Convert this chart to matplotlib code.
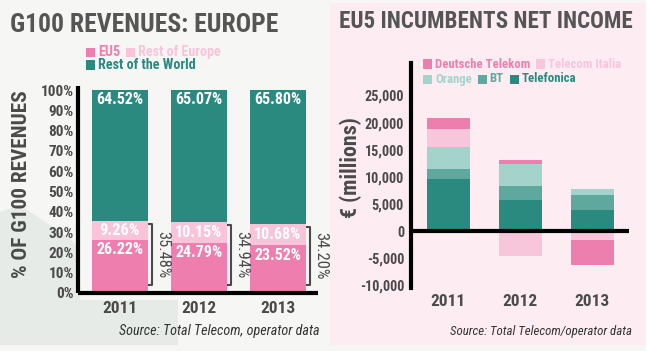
import matplotlib
matplotlib.use("Agg")
import matplotlib.pyplot as plt
from matplotlib import font_manager
from matplotlib.patches import Rectangle, Polygon
import numpy as np

# ---------------- data ----------------
years = ["2011", "2012", "2013"]
eu5 = [26.22, 24.79, 23.52]
rest_europe = [9.26, 10.15, 10.68]
rest_world = [64.52, 65.07, 65.80]
europe_total = [35.48, 34.94, 34.20]
pct_ticks = [0, 10, 20, 30, 40, 50, 60, 70, 80, 90, 100]

telefonica = [9600, 5800, 3900]
bt = [1800, 2450, 2750]
orange = [4100, 4100, 1200]
telecom_italia = [3300, -4600, -1650]
deutsche_telekom = [2100, 700, -4650]
eur_ticks = [-10000, -5000, 0, 5000, 10000, 15000, 20000, 25000]

# ---------------- fonts ----------------
FAM = ["DejaVu Sans"]
STRETCH = "normal"
ttf = font_manager.fontManager.ttflist
names = {f.name for f in ttf}
for cand in ["Roboto Condensed", "Liberation Sans Narrow", "Open Sans Condensed",
             "DejaVu Sans Condensed", "Noto Sans Condensed"]:
    if cand in names:
        FAM = [cand, "DejaVu Sans"]
        break
else:
    cond = [f for f in ttf if f.name == "DejaVu Sans" and f.stretch in ("condensed", "semi-condensed")]
    if cond:
        STRETCH = "condensed"
plt.rcParams["font.family"] = FAM
plt.rcParams["font.stretch"] = STRETCH

C_EU5 = "#ee7eae"
C_ROE = "#f8c4da"
C_ROW = "#2a8a80"
C_DT = "#ec7fae"
C_TI = "#f8c6da"
C_OR = "#a3d3cb"
C_BT = "#5fa89e"
C_TF = "#2a8a80"
GREY = "#4a4a4a"

W, H = 650, 351
fig = plt.figure(figsize=(6.5, 3.51), dpi=100, facecolor="#f6f6f5")
fig.canvas.draw()
R = fig.canvas.get_renderer()


def fx(px):
    return px / W


def fy(py):
    return 1 - py / H


def fit(t, width, horizontal=True):
    bb = t.get_window_extent(renderer=R)
    cur = bb.width if horizontal else bb.height
    if cur > 0:
        t.set_fontsize(t.get_fontsize() * width / cur)
    return t


# background panels
fig.patches.append(Polygon(
    [(fx(0), fy(212)), (fx(20), fy(205)), (fx(45), fy(222)), (fx(70), fy(238)),
     (fx(80), fy(250)), (fx(80), fy(300)), (fx(178), fy(300)), (fx(178), fy(345)),
     (fx(0), fy(345))],
    closed=True, transform=fig.transFigure, facecolor="#e6ebe8", edgecolor="none", zorder=-5))
fig.patches.append(Rectangle((fx(330), fy(345)), fx(316), fy(3) - fy(345),
                             transform=fig.transFigure, facecolor="#fdedf3",
                             edgecolor="none", zorder=-5))
fig.patches.append(Rectangle((fx(646), 0), 1 - fx(646), 1, transform=fig.transFigure,
                             facecolor="white", edgecolor="none", zorder=-5))

# ---------------- left chart ----------------
axl = fig.add_axes([fx(78), fy(293), fx(318 - 78), fy(86) - fy(293)])
axl.set_facecolor("none")
x = np.arange(len(years))
bw = 0.71
b1 = np.array(eu5)
b2 = b1 + np.array(rest_europe)
axl.bar(x, eu5, width=bw, color=C_EU5, zorder=2)
axl.bar(x, rest_europe, bottom=b1, width=bw, color=C_ROE, zorder=2)
axl.bar(x, rest_world, bottom=b2, width=bw, color=C_ROW, zorder=2)
axl.set_xlim(-0.53, 2.51)
axl.set_ylim(0, 102)
for i in range(len(years)):
    for yv, txt in [(b2[i] + rest_world[i] - 4.5, f"{rest_world[i]:.2f}%"),
                    (b1[i] + rest_europe[i] / 2, f"{rest_europe[i]:.2f}%"),
                    (eu5[i] - 4.8, f"{eu5[i]:.2f}%")]:
        t = axl.text(x[i], yv, txt, ha="center", va="center", color="white",
                     fontsize=12, fontweight="bold", zorder=3)
        fit(t, 47 if len(txt) == 6 else 40)
    bx = x[i] + 0.405
    top, bot = europe_total[i] - 1.5, 4
    axl.plot([bx - 0.05, bx, bx, bx - 0.05], [top, top, bot, bot], color=GREY,
             lw=1.5, clip_on=False, zorder=3, solid_capstyle="butt")
    t = axl.text(x[i] + 0.54, (top + bot) / 2, f"{europe_total[i]:.2f}%", rotation=-90,
                 ha="center", va="center", color=GREY, fontsize=12, clip_on=False)
    fit(t, 47, horizontal=False)
axl.set_yticks(pct_ticks)
axl.set_yticklabels([f"{t}%" for t in pct_ticks], fontweight="bold", color=GREY)
axl.set_xticks(x)
axl.set_xticklabels(years, fontweight="bold", color=GREY)
axl.tick_params(length=0, pad=3)
axl.tick_params(axis="x", pad=6)
for s in ["top", "right"]:
    axl.spines[s].set_visible(False)
for s in ["left", "bottom"]:
    axl.spines[s].set_linewidth(3)
    axl.spines[s].set_color("black")
    axl.spines[s].set_capstyle("butt")

t = fig.text(fx(10), fy(25), "G100 REVENUES: EUROPE", fontsize=19, fontweight="bold",
             color="#555555", ha="left", va="center")
fit(t, 267)
t = fig.text(fx(22), fy(184), "% OF G100 REVENUES", rotation=90, fontsize=12.5,
             fontweight="bold", color=GREY, ha="center", va="center")
fit(t, 188, horizontal=False)
t = fig.text(fx(320), fy(331), "Source: Total Telecom, operator data", fontsize=9.5,
             style="italic", color="#333333", ha="right", va="center")
fit(t, 202)


def legend_row(items, x0, y0, fs, gap=6):
    xp = x0
    for label, col in items:
        fig.patches.append(Rectangle((fx(xp), fy(y0 + 4.5)), fx(9), fy(y0 - 4.5) - fy(y0 + 4.5),
                                     transform=fig.transFigure, facecolor=col,
                                     edgecolor="none", zorder=3))
        t = fig.text(fx(xp + 12), fy(y0), label, fontsize=fs, fontweight="bold",
                     color=col, ha="left", va="center")
        bb = t.get_window_extent(renderer=R)
        xp = bb.x1 + gap


def legend_size(label, width):
    probe = fig.text(0, 0, label, fontsize=10, fontweight="bold")
    fit(probe, width)
    fs = probe.get_fontsize()
    probe.remove()
    return fs


LFS_L = legend_size("Rest of the World", 98)
LFS_R = legend_size("Deutsche Telekom", 95)
legend_row([("EU5", C_EU5), ("Rest of Europe", C_ROE)], 86, 52, LFS_L)
legend_row([("Rest of the World", C_ROW)], 86, 65, LFS_L)

# ---------------- right chart ----------------
axr = fig.add_axes([fx(411), fy(288), fx(629 - 411), fy(63) - fy(288)])
axr.set_facecolor("none")
series = [telefonica, bt, orange, telecom_italia, deutsche_telekom]
cols = [C_TF, C_BT, C_OR, C_TI, C_DT]
pos_b = np.zeros(3)
neg_b = np.zeros(3)
bw2 = 0.6
for vals, col in zip(series, cols):
    v = np.array(vals, dtype=float)
    bottoms = np.where(v >= 0, pos_b, neg_b)
    axr.bar(x, v, bottom=bottoms, width=bw2, color=col, zorder=2)
    pos_b = pos_b + np.where(v >= 0, v, 0)
    neg_b = neg_b + np.where(v < 0, v, 0)
axr.set_xlim(-0.52, 2.51)
axr.set_ylim(-10500, 31000)
axr.axhline(0, color="black", lw=3, zorder=3)
axr.set_yticks(eur_ticks)
axr.set_yticklabels([f"{t:,}" for t in eur_ticks], fontweight="bold", color=GREY)
axr.set_xticks(x)
axr.set_xticklabels(years, fontweight="bold", color=GREY)
axr.tick_params(length=0, pad=5)
axr.tick_params(axis="x", pad=4)
for s in ["top", "right", "bottom"]:
    axr.spines[s].set_visible(False)
axr.spines["left"].set_linewidth(3)
axr.spines["left"].set_color("black")

# tick label sizes
fig.canvas.draw()
for ax, ylab_w in [(axl, 33), (axr, 39)]:
    yl = ax.get_yticklabels()
    ref = yl[-1]
    w = ref.get_window_extent(renderer=R).width
    fs = ref.get_fontsize() * ylab_w / w
    for l in yl:
        l.set_fontsize(fs)
    xl = ax.get_xticklabels()
    w = xl[0].get_window_extent(renderer=R).width
    fs = xl[0].get_fontsize() * 35 / w
    for l in xl:
        l.set_fontsize(fs)

t = fig.text(fx(339), fy(22), "EU5 INCUMBENTS NET INCOME", fontsize=19, fontweight="bold",
             color="#555555", ha="left", va="center")
fit(t, 293)
t = fig.text(fx(351), fy(168), "€ (millions)", rotation=90, fontsize=13,
             fontweight="bold", color=GREY, ha="center", va="center")
fit(t, 100, horizontal=False)
t = fig.text(fx(632), fy(332), "Source: Total Telecom/operator data", fontsize=9.5,
             style="italic", color="#333333", ha="right", va="center")
fit(t, 184)
legend_row([("Deutsche Telekom", C_DT), ("Telecom Italia", C_TI)], 423, 64, LFS_R)
legend_row([("Orange", C_OR), ("BT", C_BT), ("Telefonica", C_TF)], 423, 79, LFS_R)

fig.savefig("out.png", dpi=100, facecolor=fig.get_facecolor())
